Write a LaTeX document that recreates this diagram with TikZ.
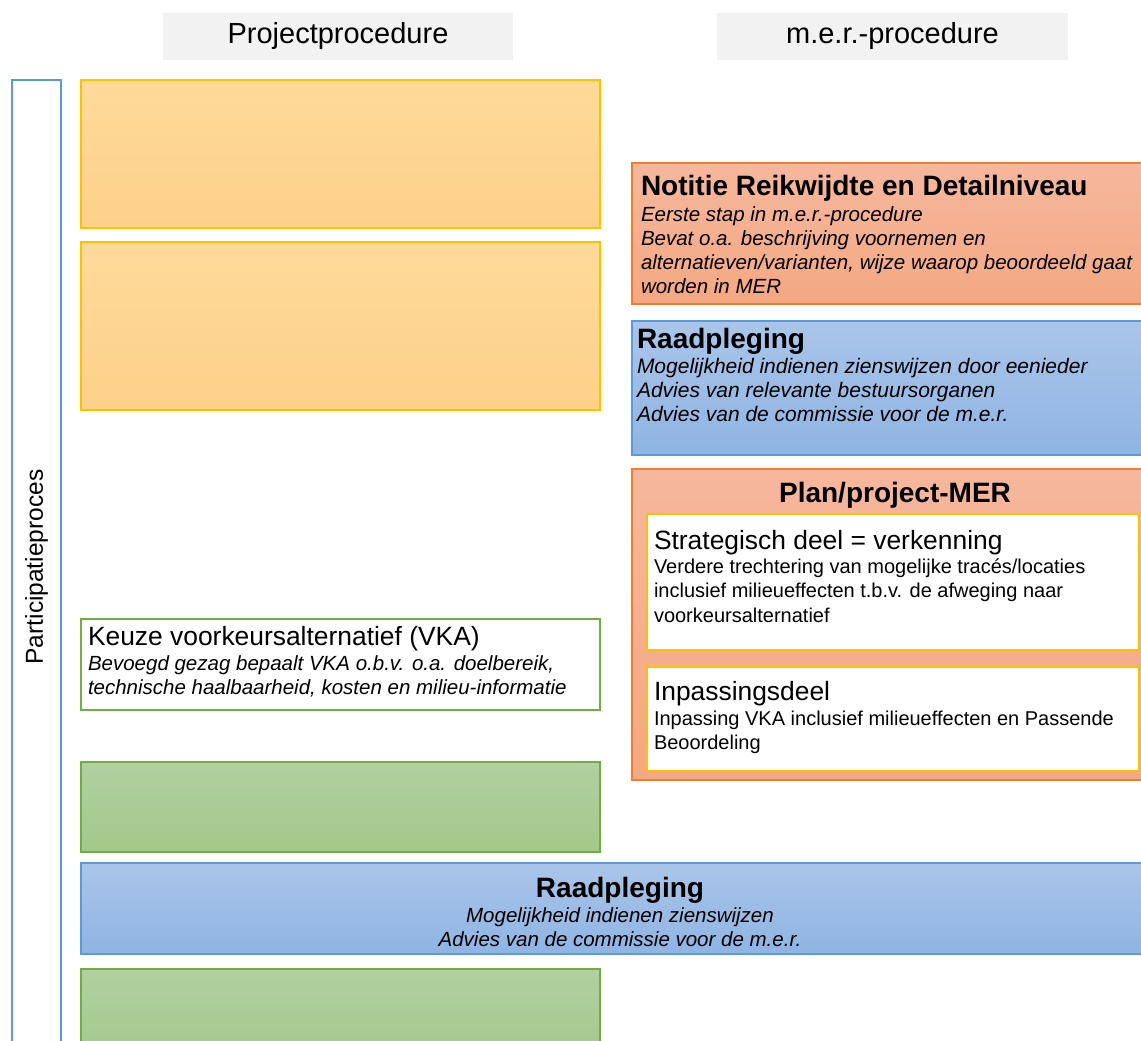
\documentclass[tikz,border=0pt]{standalone}
\usepackage{fontspec}
\setmainfont{Liberation Sans}

\definecolor{hdrgray}{HTML}{F2F2F2}
\definecolor{goldline}{HTML}{FFC000}
\definecolor{goldtop}{HTML}{FEDA9A}
\definecolor{goldbot}{HTML}{FDD189}
\definecolor{orangeline}{HTML}{ED7D31}
\definecolor{orangetop}{HTML}{F6B79D}
\definecolor{orangebot}{HTML}{F4A882}
\definecolor{blueline}{HTML}{5B9BD5}
\definecolor{bluetop}{HTML}{AAC5E9}
\definecolor{bluebot}{HTML}{8FB4E3}
\definecolor{greenline}{HTML}{70AD47}
\definecolor{greentop}{HTML}{B1D1A0}
\definecolor{greenbot}{HTML}{A2C88A}

\tikzset{
    boxed/.style={draw, line width=1.6pt, anchor=north west},
    yellowbox/.style={boxed, draw=goldline, top color=goldtop, bottom color=goldbot},
    orangebox/.style={boxed, draw=orangeline, top color=orangetop, bottom color=orangebot},
    bluebox/.style={boxed, draw=blueline, top color=bluetop, bottom color=bluebot},
    greenbox/.style={boxed, draw=greenline, top color=greentop, bottom color=greenbot},
    whitebox/.style={boxed, fill=white},
    hdrbox/.style={fill=hdrgray, minimum height=47pt, font=\fontsize{29}{33}\selectfont},
    ttl/.style={anchor=base west, font=\bfseries\fontsize{28}{32}\selectfont},
    subttl/.style={anchor=base west, font=\fontsize{26.4}{30}\selectfont},
    itxt/.style={anchor=base west, align=left, font=\itshape\fontsize{20.5}{24}\selectfont},
    rtxt/.style={anchor=base west, align=left, font=\fontsize{20}{24.5}\selectfont}
}

\begin{document}
\begin{tikzpicture}[x=1pt, y=-1pt, every node/.style={inner sep=0pt, outer sep=0pt}]
    \useasboundingbox (0,0) rectangle (1141,1041);
    \clip (0,0) rectangle (1141,1041);

    % Column headers
    \node[hdrbox, minimum width=350pt] (hproj) at (338,36.5) {Projectprocedure};
    \node[hdrbox, minimum width=351pt] (hmer) at (892.5,36.5) {m.e.r.-procedure};

    % Participation bar
    \node[boxed, draw=blueline, fill=white, minimum width=49pt, minimum height=985pt] (part) at (12,80) {};
    \node[rotate=90, font=\fontsize{24.5}{28}\selectfont] (partlbl) at (36.5,567) {Participatieproces};

    % Project procedure boxes
    \node[yellowbox, minimum width=519pt, minimum height=148pt] (yel1) at (81,80) {};
    \node[yellowbox, minimum width=519pt, minimum height=168pt] (yel2) at (81,242) {};
    \node[whitebox, draw=greenline, minimum width=519pt, minimum height=91pt] (vka) at (81,619) {};
    \node[greenbox, minimum width=519pt, minimum height=90pt] (grn1) at (81,762) {};
    \node[bluebox, minimum width=1075pt, minimum height=91pt] (raad2) at (81,863) {};
    \node[greenbox, minimum width=519pt, minimum height=95pt] (grn2) at (81,969) {};

    % m.e.r. procedure boxes
    \node[orangebox, minimum width=520pt, minimum height=141pt] (nrd) at (632,163) {};
    \node[bluebox, minimum width=520pt, minimum height=134pt] (raad1) at (632,321) {};
    \node[orangebox, minimum width=520pt, minimum height=311pt] (mer) at (632,469) {};
    \node[whitebox, draw=goldline, minimum width=492pt, minimum height=136pt] (strat) at (647,514) {};
    \node[whitebox, draw=goldline, minimum width=492pt, minimum height=104pt] (inpas) at (647,667) {};

    % Texts (multi-line nodes sit on the baseline of their last line)
    \node[ttl] (nrdttl) at (641,195) {Notitie Reikwijdte en Detailniveau};
    \node[itxt] (nrdtxt) at (641,293) {Eerste stap in m.e.r.-procedure\\Bevat o.a. beschrijving voornemen en\\alternatieven/varianten, wijze waarop beoordeeld gaat\\worden in MER};

    \node[ttl] (raad1ttl) at (637,348) {Raadpleging};
    \node[itxt, font=\itshape\fontsize{21}{24}\selectfont] (raad1txt) at (637,421) {Mogelijkheid indienen zienswijzen door eenieder\\Advies van relevante bestuursorganen\\Advies van de commissie voor de m.e.r.};

    \node[ttl, anchor=base] (merttl) at (895,502) {Plan/project-MER};
    \node[subttl] (stratttl) at (654,549) {Strategisch deel = verkenning};
    \node[rtxt] (strattxt) at (654,622) {Verdere trechtering van mogelijke trac\'es/locaties\\inclusief milieueffecten t.b.v. de afweging naar\\voorkeursalternatief};
    \node[subttl] (inpasttl) at (654,700) {Inpassingsdeel};
    \node[rtxt] (inpastxt) at (654,749.5) {Inpassing VKA inclusief milieueffecten en Passende\\Beoordeling};

    \node[subttl] (vkattl) at (88,645) {Keuze voorkeursalternatief (VKA)};
    \node[itxt] (vkatxt) at (88,694) {Bevoegd gezag bepaalt VKA o.b.v. o.a. doelbereik,\\technische haalbaarheid, kosten en milieu-informatie};

    \node[ttl, anchor=base] (raad2ttl) at (620,897) {Raadpleging};
    \node[itxt, anchor=base, align=center] (raad2txt) at (620,946) {Mogelijkheid indienen zienswijzen\\Advies van de commissie voor de m.e.r.};
\end{tikzpicture}
\end{document}
